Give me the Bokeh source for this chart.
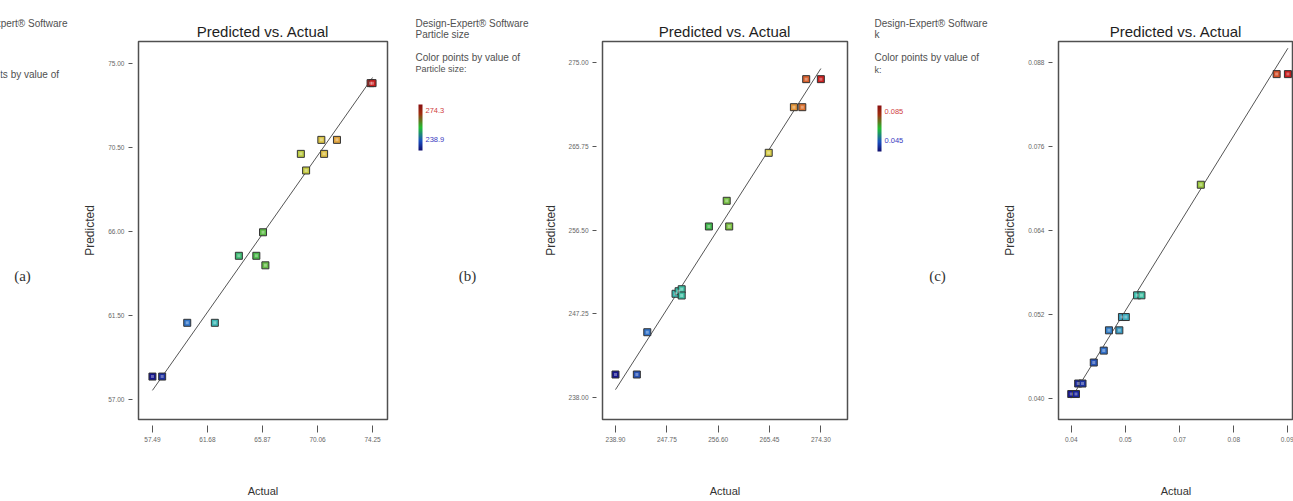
import numpy as np
from bokeh.plotting import figure
from bokeh.layouts import row
from bokeh.models import Range1d, FixedTicker, Label, LinearColorMapper, ColumnDataSource
from bokeh.transform import linear_cmap
from bokeh.embed import file_html
from bokeh.resources import INLINE

# ---------------- data ----------------
a_actual = [57.49, 58.23, 60.14, 62.24, 64.07, 65.40, 65.91, 66.09, 68.79, 69.19, 70.35, 70.56, 71.54, 74.10, 74.25]
a_pred = [58.23, 58.23, 61.11, 61.11, 64.70, 64.70, 65.96, 64.19, 70.16, 69.27, 70.91, 70.16, 70.91, 73.95, 73.95]
a_xticks = [57.49, 61.68, 65.87, 70.06, 74.25]
a_xlabels = ["57.49", "61.68", "65.87", "70.06", "74.25"]
a_yticks = [57.00, 61.50, 66.00, 70.50, 75.00]
a_ylabels = ["57.00", "61.50", "66.00", "70.50", "75.00"]

b_actual = [238.90, 242.58, 244.38, 249.25, 249.78, 250.31, 250.31, 255.00, 258.07, 258.50, 265.31, 269.65, 271.10, 271.77, 274.30]
b_pred = [240.57, 240.57, 245.23, 249.47, 249.75, 249.97, 249.28, 256.89, 259.72, 256.89, 265.01, 270.04, 270.04, 273.13, 273.13]
b_xticks = [238.90, 247.75, 256.60, 265.45, 274.30]
b_xlabels = ["238.90", "247.75", "256.60", "265.45", "274.30"]
b_yticks = [238.00, 247.25, 256.50, 265.75, 275.00]
b_ylabels = ["238.00", "247.25", "256.50", "265.75", "275.00"]

c_actual = [0.0400, 0.0411, 0.0416, 0.0426, 0.0452, 0.0475, 0.0487, 0.0511, 0.0517, 0.0526, 0.0552, 0.0562, 0.0699, 0.0874, 0.0900]
c_pred = [0.0406, 0.0406, 0.0421, 0.0421, 0.0451, 0.0468, 0.0497, 0.0497, 0.0516, 0.0516, 0.0547, 0.0547, 0.0705, 0.0863, 0.0863]
c_xticks = [0.04, 0.0525, 0.065, 0.0775, 0.09]
c_xlabels = ["0.04", "0.05", "0.07", "0.08", "0.09"]
c_yticks = [0.040, 0.052, 0.064, 0.076, 0.088]
c_ylabels = ["0.040", "0.052", "0.064", "0.076", "0.088"]

legend_a = ["Design-Expert\u00ae Software", "EE", "Color points by value of", "EE:", "74.25", "57.49"]
legend_b = ["Design-Expert\u00ae Software", "Particle size", "Color points by value of", "Particle size:", "274.3", "238.9"]
legend_c = ["Design-Expert\u00ae Software", "k", "Color points by value of", "k:", "0.085", "0.045"]
panel_tags = ["(a)", "(b)", "(c)"]

# ---------------- styling ----------------
H = 501
TOP = 41        # frame top (px from page top)
BOTTOM = 419    # frame bottom
SANS = "Liberation Sans"


def make_palette(stops, n=256):
    pos = np.array([s[0] for s in stops])
    rgb = np.array([[int(s[1][i:i + 2], 16) for i in (1, 3, 5)] for s in stops], dtype=float)
    t = np.linspace(0, 1, n)
    cols = np.stack([np.interp(t, pos, rgb[:, k]) for k in range(3)], axis=1)
    return ["#%02x%02x%02x" % tuple(int(round(v)) for v in c) for c in cols]


point_palette = make_palette([
    (0.00, "#15158e"), (0.15, "#2f6fc8"), (0.30, "#3cc0b0"), (0.45, "#3cb44a"),
    (0.62, "#a6c83c"), (0.75, "#d8cc48"), (0.88, "#e08c34"), (1.00, "#c81e1e")])
bar_palette = make_palette([(0.0, "#101070"), (0.2, "#1a4fc0"), (0.5, "#20c030"), (0.8, "#a03010"), (1.0, "#8a1010")])


def make_plot(actual, pred, xticks, xlabels, yticks, ylabels, xr, yr, width, bl, br):
    p = figure(width=width, height=H, x_range=Range1d(*xr), y_range=Range1d(*yr),
               output_backend="svg", toolbar_location=None, title="Predicted vs. Actual",
               min_border_left=bl, min_border_right=br, min_border_top=TOP,
               min_border_bottom=H - BOTTOM)
    p.grid.visible = False
    p.outline_line_color = "#505050"
    p.outline_line_width = 1.5
    p.title.align = "center"
    p.title.text_font = SANS
    p.title.text_font_size = "15px"
    p.title.text_font_style = "normal"
    p.title.text_color = "#1e1e1e"
    p.title.standoff = 3
    for ax in (p.xaxis[0], p.yaxis[0]):
        ax.axis_line_color = None
        ax.minor_tick_line_color = None
        ax.major_tick_line_color = "#555555"
        ax.major_tick_in = -6
        ax.major_label_text_font = SANS
        ax.major_label_text_font_size = "6.5px"
        ax.major_label_text_color = "#666666"
        ax.major_label_standoff = 4
        ax.axis_label_text_font_style = "normal"
        ax.axis_label_text_color = "#333333"
        ax.axis_label_text_font = SANS
    p.xaxis[0].major_tick_out = 13
    p.yaxis[0].major_tick_out = 10
    p.xaxis[0].ticker = FixedTicker(ticks=xticks)
    p.yaxis[0].ticker = FixedTicker(ticks=yticks)
    p.xaxis[0].major_label_overrides = dict(zip(xticks, xlabels))
    p.yaxis[0].major_label_overrides = dict(zip(yticks, ylabels))
    p.xaxis[0].axis_label = "Actual"
    p.xaxis[0].axis_label_text_font_size = "11px"
    p.xaxis[0].axis_label_standoff = 40
    p.yaxis[0].axis_label = "Predicted"
    p.yaxis[0].axis_label_text_font_size = "12px"
    p.yaxis[0].axis_label_standoff = 8

    lo, hi = min(actual), max(actual)
    p.line(x=[lo, hi], y=[lo, hi], line_color="#555555", line_width=1)
    src = ColumnDataSource(dict(actual=actual, pred=pred))
    p.scatter(x="actual", y="pred", source=src, marker="square", size=7,
              fill_color=linear_cmap("actual", point_palette, lo, hi),
              line_color="#333333", line_width=1)
    p.scatter(x="actual", y="pred", source=src, marker="square", size=3,
              fill_color="white", fill_alpha=0.35, line_color=None)
    return p


def make_text(width, left, texts, tag, tx, ys, tag_x):
    # the frame is aligned with the plots' frames (TOP..BOTTOM); data y = H - page y.
    # The two header lines sit above the frame, so they are given as the title.
    t = figure(width=width, height=H, x_range=Range1d(0, width),
               y_range=Range1d(H - BOTTOM, H - TOP),
               output_backend="svg", toolbar_location=None, min_border=0,
               min_border_top=TOP, min_border_bottom=H - BOTTOM,
               x_axis_location=None, y_axis_location=None,
               title=texts[0] + "\n" + texts[1])
    t.grid.visible = False
    t.outline_line_color = None
    t.title.align = "left"
    t.title.offset = tx - left
    t.title.text_font = SANS
    t.title.text_font_size = "10px"
    t.title.text_font_style = "normal"
    t.title.text_color = "#505050"
    t.title.text_line_height = 1.05
    t.title.standoff = 2

    def lab(text, sx, sy, size="10px", color="#505050", font=SANS, align="left"):
        t.add_layout(Label(x=sx - left, y=H - sy, text=text, text_baseline="middle",
                           text_align=align, text_font=font, text_font_size=size,
                           text_color=color))

    y3, y4, bar_top = ys
    lab(texts[2], tx, y3)
    lab(texts[3], tx, y4, size="9px")
    grad = np.linspace(0, 1, 64).reshape(-1, 1)
    t.image(image=[grad], x=tx + 3 - left, y=H - (bar_top + 46), dw=4, dh=46,
            color_mapper=LinearColorMapper(palette=bar_palette, low=0, high=1))
    lab(texts[4], tx + 10, bar_top + 6, size="7.5px", color="#d04040")
    lab(texts[5], tx + 10, bar_top + 35, size="7.5px", color="#3a3ac0")
    lab(tag, tag_x, 275, size="15px", color="#333333", font="Liberation Serif", align="center")
    return t


ta = make_text(80, 0, legend_a, panel_tags[0], -46, (74, 86, 122), 22)
pa = make_plot(a_actual, a_pred, a_xticks, a_xlabels, a_yticks, a_ylabels,
               (56.428, 75.388), (55.93, 76.18), 320, 57, 13)
tb = make_text(140, 400, legend_b, panel_tags[1], 415, (57, 68, 104), 467)
pb = make_plot(b_actual, b_pred, b_xticks, b_xlabels, b_yticks, b_ylabels,
               (236.66, 278.89), (235.61, 277.28), 320, 57, 13)
tc = make_text(140, 860, legend_c, panel_tags[2], 874, (57, 69, 105), 937)
pc = make_plot(c_actual, c_pred, c_xticks, c_xlabels, c_yticks, c_ylabels,
               (0.03706, 0.09129), (0.03696, 0.09096), 293, 53, 0)

layout = row(ta, pa, tb, pb, tc, pc)
open("out.html", "w").write(file_html(layout, INLINE))
